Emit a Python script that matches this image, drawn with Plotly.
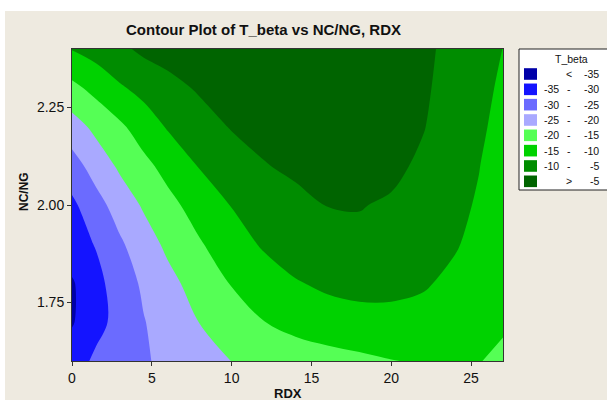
import plotly.graph_objects as go

# ---- data ----
rdx = [0, 1.5, 3, 4.5, 6, 8, 10, 12, 14, 16, 18, 20, 22, 24, 25.5, 27]
ncng = [1.6, 1.7, 1.8, 1.9, 2.0, 2.1, 2.2, 2.3, 2.4]
t_beta = [
    [-32.6, -29.0, -27.4, -25.5, -23.9, -21.9, -19.95, -19.0, -18.0, -17.0, -16.1, -15.15, -14.6, -14.5, -14.9, -15.6],
    [-35.4, -31.7, -28.2, -25.2, -22.9, -19.9, -17.5, -15.1, -13.2, -12.0, -11.3, -11.2, -11.6, -12.4, -13.2, -14.6],
    [-35.5, -31.5, -27.5, -24.2, -21.4, -17.9, -14.7, -12.5, -10.3, -9.2, -8.8, -8.9, -9.5, -11.1, -12.5, -14.0],
    [-32.3, -29.7, -25.7, -22.2, -19.0, -15.4, -12.3, -9.4, -7.8, -6.6, -6.0, -6.3, -7.6, -9.6, -11.4, -13.3],
    [-31.0, -26.8, -22.8, -19.4, -16.4, -12.9, -9.8, -8.2, -6.4, -4.9, -4.8, -5.5, -7.5, -9.05, -10.4, -12.6],
    [-27.1, -22.9, -19.2, -16.3, -13.4, -9.7, -7.5, -5.3, -4.0, -3.3, -3.3, -4.0, -5.8, -8.1, -9.9, -12.0],
    [-22.2, -18.8, -15.9, -12.6, -9.6, -7.1, -4.7, -3.4, -2.7, -2.4, -2.5, -3.0, -4.8, -7.4, -9.3, -11.3],
    [-16.3, -13.5, -10.6, -8.5, -6.6, -4.4, -3.2, -2.5, -2.1, -2.0, -2.2, -2.8, -4.3, -7.0, -8.8, -10.7],
    [-9.8, -8.0, -6.0, -4.0, -3.0, -2.3, -2.0, -1.8, -1.7, -1.7, -1.8, -2.3, -4.0, -6.5, -8.3, -10.05],
]
levels_start, levels_end, levels_step = -35, -5, 5
band_colors = ['#0000A8', '#1414FF', '#6B6BFF', '#A9A9FF', '#55FF55', '#00D200', '#008C00', '#006400']
legend_low = ['', '-35', '-30', '-25', '-20', '-15', '-10', '']
legend_mid = ['<', '-', '-', '-', '-', '-', '-', '>']
legend_high = ['-35', '-30', '-25', '-20', '-15', '-10', '-5', '-5']
x_ticks = [0, 5, 10, 15, 20, 25]
y_ticks = [1.75, 2.00, 2.25]

W, H = 607, 400
ML, MR, MT, MB = 72, 104, 49, 39
PW, PH = W - ML - MR, H - MT - MB
BEIGE = '#EEEAE0'
FONT = 'Liberation Sans'


def pxx(px):
    return (px - ML) / PW


def pxy(py):
    return (H - MB - py) / PH


n = len(band_colors)
colorscale = [[k / (n - 1), c] for k, c in enumerate(band_colors)]

fig = go.Figure(go.Contour(
    x=rdx, y=ncng, z=t_beta,
    contours=dict(start=levels_start, end=levels_end, size=levels_step,
                  coloring='fill', showlines=False),
    colorscale=colorscale, zmin=levels_start - levels_step / 2,
    zmax=levels_end + levels_step / 2,
    line=dict(width=0, smoothing=1),
    showscale=False, hoverinfo='skip',
))

shapes = [
    # beige graph background
    dict(type='rect', xref='paper', yref='paper', layer='below',
         x0=pxx(5), x1=pxx(W + 5), y0=pxy(H + 5), y1=pxy(11),
         fillcolor=BEIGE, line=dict(width=0)),
    # legend box
    dict(type='rect', xref='paper', yref='paper',
         x0=pxx(519), x1=pxx(W + 10), y0=pxy(190), y1=pxy(49),
         fillcolor='white', line=dict(color='#222222', width=1)),
]
annotations = [
    dict(text='T_beta', x=pxx(571), y=pxy(59), xref='paper', yref='paper',
         showarrow=False, font=dict(family=FONT, size=10.5, color='#111'),
         xanchor='center', yanchor='middle'),
    dict(text='<b>NC/NG</b>', x=pxx(24), y=pxy(192), xref='paper', yref='paper',
         showarrow=False, textangle=-90, font=dict(family=FONT, size=12, color='#111'),
         xanchor='center', yanchor='middle'),
    dict(text='<b>RDX</b>', x=pxx(287.5), y=pxy(393), xref='paper', yref='paper',
         showarrow=False, font=dict(family=FONT, size=13, color='#111'),
         xanchor='center', yanchor='middle'),
]
for k in range(n):
    cy = 74 + 15.33 * k
    shapes.append(dict(type='rect', xref='paper', yref='paper',
                       x0=pxx(524), x1=pxx(537), y0=pxy(cy + 5.8), y1=pxy(cy - 5.8),
                       fillcolor=band_colors[k], line=dict(width=0)))
    f = dict(family=FONT, size=10.5, color='#111')
    if legend_low[k]:
        annotations.append(dict(text=legend_low[k], x=pxx(561), y=pxy(cy), xref='paper', yref='paper',
                                showarrow=False, font=f, xanchor='right', yanchor='middle'))
    annotations.append(dict(text=legend_mid[k], x=pxx(569), y=pxy(cy), xref='paper', yref='paper',
                            showarrow=False, font=f, xanchor='center', yanchor='middle'))
    annotations.append(dict(text=legend_high[k], x=pxx(601), y=pxy(cy), xref='paper', yref='paper',
                            showarrow=False, font=f, xanchor='right', yanchor='middle'))

axis_common = dict(showline=True, mirror=True, linecolor='#333333', linewidth=1,
                   ticks='outside', ticklen=4, tickcolor='#333333', showgrid=False,
                   zeroline=False, tickfont=dict(family=FONT, size=14, color='#111'))

fig.update_layout(
    width=W, height=H, autosize=False,
    margin=dict(l=ML, r=MR, t=MT, b=MB, pad=0),
    paper_bgcolor='white', plot_bgcolor=BEIGE,
    title=dict(text='<b>Contour Plot of T_beta vs NC/NG, RDX</b>',
               x=263.5 / W, xanchor='center', xref='container',
               y=1 - 30 / H, yanchor='middle', yref='container',
               font=dict(family=FONT, size=15, color='#111')),
    xaxis=dict(range=[0, 27], tickvals=x_ticks, **axis_common),
    yaxis=dict(range=[1.6, 2.4], tickvals=y_ticks, tickformat='.2f', **axis_common),
    shapes=shapes, annotations=annotations, showlegend=False,
)

fig.write_html('out.html')
